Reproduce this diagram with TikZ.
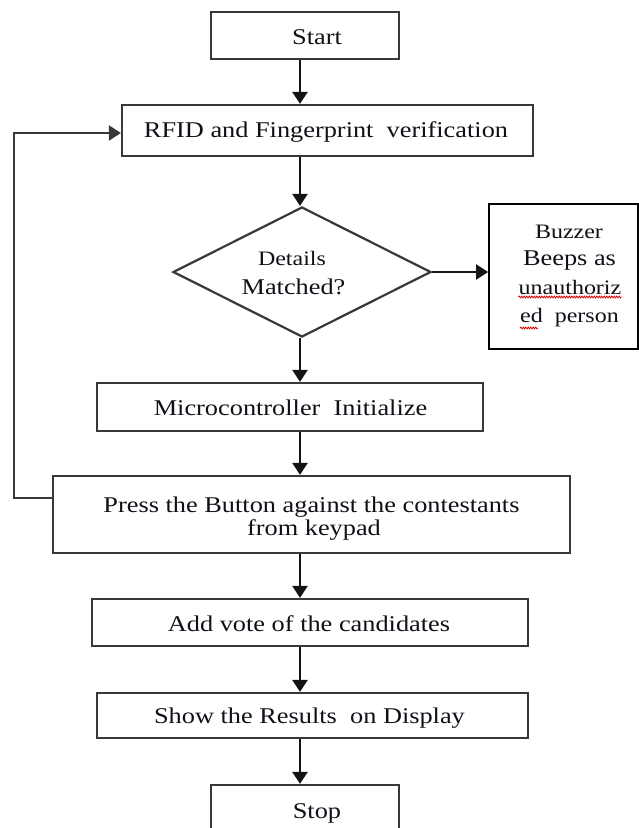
\documentclass[tikz,border=0pt]{standalone}
\usepackage{fontspec}
\setmainfont{Liberation Serif}[FakeStretch=1.17]
\usetikzlibrary{arrows.meta,shapes.geometric,decorations.pathmorphing}
\definecolor{boxgray}{HTML}{383838}
\definecolor{inkc}{HTML}{101018}
\tikzset{
  box/.style={draw=boxgray, line width=2.2pt, rectangle, inner sep=0pt, fill=none},
  lbl/.style={anchor=base, inner sep=0pt, text=inkc, font=\fontsize{22.5}{24}\selectfont},
  lblsm/.style={anchor=base, inner sep=0pt, text=inkc, font=\fontsize{20.5}{22}\selectfont},
  arr/.style={draw=black!92, line width=2.3pt, -{Triangle[length=12pt,width=15pt]}},
  looparr/.style={draw=boxgray, line width=2.2pt, -{Triangle[length=12pt,width=15pt]}},
  spell/.style={draw=red!85!black, line width=0.8pt, decorate, decoration={snake, amplitude=0.9pt, segment length=2.5pt}}
}
\begin{document}
\begin{tikzpicture}[x=1pt,y=-1pt]
\useasboundingbox (0,0) rectangle (639,828);
\fill[white] (0,0) rectangle (639,828);
\coordinate (ax) at (300,0);
% boxes
\node[box, minimum width=188pt, minimum height=47pt] (start) at (305,35.5) {};
\node[box, minimum width=411pt, minimum height=51pt] (rfid) at (327.5,130.5) {};
\node[draw=boxgray, line width=2.2pt, diamond, inner sep=0pt, minimum width=258pt, minimum height=130pt] (dia) at (302,272) {};
\node[draw=black, line width=1.8pt, rectangle, inner sep=0pt, minimum width=149pt, minimum height=145pt] (buzz) at (563.5,276.5) {};
\node[box, minimum width=386pt, minimum height=48pt] (micro) at (290,407) {};
\node[box, minimum width=517pt, minimum height=77pt] (press) at (311.5,514.5) {};
\node[box, minimum width=436pt, minimum height=47pt] (addv) at (310,622.5) {};
\node[box, minimum width=431pt, minimum height=45pt] (show) at (312.5,715.5) {};
\node[box, minimum width=188pt, minimum height=60pt] (stop) at (305,815) {};
% labels
\node[lbl] (tstart) at (317,44) {Start};
\node[lbl] (trfid) at (326,137) {RFID and Fingerprint\ \ verification};
\node[lblsm] (tdet) at (292,265) {Details};
\node[lbl] (tmat) at (293.5,294) {Matched?};
\node[lblsm] (tb1) at (569,238) {Buzzer};
\node[lbl] (tb2) at (569.5,265) {Beeps as};
\node[lblsm] (tb3) at (570,294) {unauthoriz};
\node[lblsm] (tb4) at (569.5,322) {ed\ \ person};
\node[lbl] (tmic) at (290.5,415) {Microcontroller\ \ Initialize};
\node[lbl] (tpr1) at (311.5,512) {Press the Button against the contestants};
\node[lbl] (tpr2) at (314,535) {from keypad};
\node[lbl] (tadd) at (309,631) {Add vote of the candidates};
\node[lbl] (tshow) at (309.5,723) {Show the Results\ \ on Display};
\node[lbl] (tstop) at (317,818) {Stop};
% spell-check marks
\draw[spell] ([yshift=-3pt]tb3.base west) -- ([yshift=-3pt]tb3.base east);
\draw[spell] ([yshift=-6pt]tb4.base west) -- ([xshift=18pt,yshift=-6pt]tb4.base west);
% connectors
\draw[arr] (ax |- start.south) -- (ax |- rfid.north);
\draw[arr] (ax |- rfid.south) -- (ax |- dia.north);
\draw[arr] (dia.east) -- (dia.east -| buzz.west);
\draw[arr] (ax |- dia.south) -- (ax |- micro.north);
\draw[arr] (ax |- micro.south) -- (ax |- press.north);
\draw[arr] (ax |- press.south) -- (ax |- addv.north);
\draw[arr] (ax |- addv.south) -- (ax |- show.north);
\draw[arr] (ax |- show.south) -- (ax |- stop.north);
\coordinate (lp1) at (14,498);
\coordinate (lp2) at (14,133);
\draw[looparr] (press.west |- lp1) -- (lp1) -- (lp2) -- (rfid.west |- lp2);
\end{tikzpicture}
\end{document}
